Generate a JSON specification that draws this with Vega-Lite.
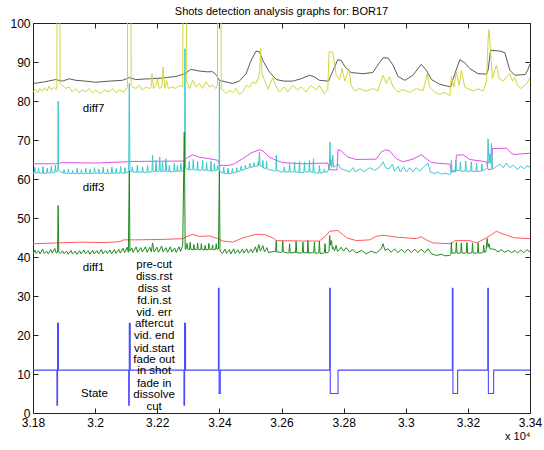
{
"$schema": "https://vega.github.io/schema/vega-lite/v6.json",
"width": 497, "height": 390,
"autosize": {"type": "none"},
"padding": {"left": 33, "top": 23, "right": 14, "bottom": 37},
"background": "white",
"title": {"text": "Shots detection analysis graphs for: BOR17", "fontSize": 11, "fontWeight": "normal", "font": "Liberation Sans", "offset": 0, "anchor": "middle", "color": "#000"},
"config": {"view": {"stroke": "#222", "strokeWidth": 1}, "font": "Liberation Sans"},
"datasets": {
"black": [{"f":31800,"v":84.5},{"f":31830,"v":84.8},{"f":31873,"v":85.5},{"f":31895,"v":85.1},{"f":31916,"v":85.7},{"f":31938,"v":85.3},{"f":31970,"v":85.1},{"f":32002,"v":84.8},{"f":32045,"v":85.1},{"f":32088,"v":85.3},{"f":32110,"v":86.0},{"f":32131,"v":85.5},{"f":32174,"v":85.7},{"f":32217,"v":85.9},{"f":32260,"v":86.3},{"f":32289,"v":87.0},{"f":32308,"v":88.1},{"f":32335,"v":87.7},{"f":32357,"v":87.5},{"f":32378,"v":87.5},{"f":32391,"v":86.6},{"f":32400,"v":85.3},{"f":32421,"v":84.9},{"f":32443,"v":84.5},{"f":32464,"v":85.1},{"f":32486,"v":87.0},{"f":32502,"v":90.4},{"f":32518,"v":92.8},{"f":32529,"v":92.6},{"f":32540,"v":90.4},{"f":32556,"v":88.1},{"f":32561,"v":87.5},{"f":32583,"v":85.5},{"f":32609,"v":85.1},{"f":32636,"v":85.1},{"f":32663,"v":85.7},{"f":32690,"v":86.6},{"f":32706,"v":86.2},{"f":32722,"v":85.3},{"f":32752,"v":85.1},{"f":32757,"v":86.2},{"f":32771,"v":88.7},{"f":32781,"v":90.6},{"f":32792,"v":90.4},{"f":32806,"v":88.6},{"f":32824,"v":87.3},{"f":32862,"v":87.0},{"f":32894,"v":87.3},{"f":32910,"v":89.2},{"f":32927,"v":91.1},{"f":32943,"v":91.0},{"f":32959,"v":89.2},{"f":32975,"v":86.3},{"f":32997,"v":85.3},{"f":33023,"v":86.6},{"f":33050,"v":89.4},{"f":33066,"v":87.9},{"f":33083,"v":85.5},{"f":33109,"v":84.3},{"f":33145,"v":83.6},{"f":33149,"v":84.9},{"f":33158,"v":87.0},{"f":33174,"v":90.6},{"f":33190,"v":89.8},{"f":33206,"v":88.3},{"f":33233,"v":87.0},{"f":33260,"v":86.9},{"f":33265,"v":87.9},{"f":33273,"v":93.0},{"f":33303,"v":92.8},{"f":33319,"v":92.4},{"f":33335,"v":87.9},{"f":33351,"v":86.6},{"f":33385,"v":86.8},{"f":33393,"v":88.0},{"f":33400,"v":89.5}],
"yellow": [{"f":31800,"v":82.4},{"f":31808,"v":83.0},{"f":31815,"v":82.2},{"f":31822,"v":83.2},{"f":31830,"v":82.5},{"f":31838,"v":83.4},{"f":31845,"v":82.6},{"f":31852,"v":83.8},{"f":31860,"v":82.8},{"f":31868,"v":83.5},{"f":31874,"v":83.0},{"f":31877,"v":84.0},{"f":31878,"v":130},{"f":31886,"v":130},{"f":31887,"v":84.5},{"f":31895,"v":84.0},{"f":31905,"v":83.2},{"f":31916,"v":83.6},{"f":31927,"v":82.3},{"f":31938,"v":83.2},{"f":31948,"v":82.1},{"f":31959,"v":82.9},{"f":31970,"v":82.3},{"f":31981,"v":83.2},{"f":31991,"v":82.1},{"f":32002,"v":82.8},{"f":32018,"v":81.9},{"f":32029,"v":82.8},{"f":32045,"v":82.3},{"f":32056,"v":83.2},{"f":32067,"v":82.1},{"f":32077,"v":82.8},{"f":32093,"v":82.3},{"f":32104,"v":83.6},{"f":32105,"v":130},{"f":32115,"v":130},{"f":32116,"v":84.0},{"f":32120,"v":83.6},{"f":32131,"v":83.2},{"f":32142,"v":84.0},{"f":32153,"v":82.8},{"f":32163,"v":83.6},{"f":32174,"v":83.2},{"f":32180,"v":83.5},{"f":32183,"v":87.0},{"f":32188,"v":83.2},{"f":32196,"v":84.0},{"f":32201,"v":85.7},{"f":32206,"v":83.2},{"f":32215,"v":83.6},{"f":32219,"v":88.7},{"f":32224,"v":83.2},{"f":32230,"v":85.3},{"f":32236,"v":83.2},{"f":32249,"v":83.6},{"f":32260,"v":83.2},{"f":32271,"v":84.0},{"f":32282,"v":83.6},{"f":32284,"v":130},{"f":32294,"v":130},{"f":32295,"v":85.0},{"f":32303,"v":83.2},{"f":32314,"v":85.3},{"f":32325,"v":83.6},{"f":32335,"v":84.5},{"f":32346,"v":83.2},{"f":32357,"v":84.9},{"f":32368,"v":83.6},{"f":32378,"v":84.0},{"f":32389,"v":83.2},{"f":32394,"v":84.0},{"f":32395,"v":130},{"f":32405,"v":130},{"f":32406,"v":83.0},{"f":32411,"v":82.8},{"f":32421,"v":81.9},{"f":32432,"v":82.8},{"f":32443,"v":82.1},{"f":32454,"v":83.2},{"f":32464,"v":81.7},{"f":32475,"v":82.3},{"f":32486,"v":84.0},{"f":32497,"v":83.6},{"f":32507,"v":84.9},{"f":32518,"v":84.5},{"f":32527,"v":86.2},{"f":32530,"v":88.0},{"f":32533,"v":93.5},{"f":32537,"v":87.0},{"f":32545,"v":85.5},{"f":32552,"v":84.0},{"f":32558,"v":83.0},{"f":32561,"v":84.0},{"f":32572,"v":86.0},{"f":32583,"v":83.6},{"f":32593,"v":82.3},{"f":32609,"v":83.6},{"f":32620,"v":82.3},{"f":32636,"v":84.0},{"f":32652,"v":82.8},{"f":32663,"v":83.6},{"f":32679,"v":82.3},{"f":32695,"v":84.0},{"f":32712,"v":82.8},{"f":32722,"v":84.0},{"f":32738,"v":81.9},{"f":32749,"v":82.9},{"f":32753,"v":92.6},{"f":32765,"v":92.6},{"f":32771,"v":89.6},{"f":32776,"v":86.6},{"f":32787,"v":85.5},{"f":32795,"v":88.3},{"f":32804,"v":85.1},{"f":32817,"v":88.3},{"f":32824,"v":84.0},{"f":32835,"v":82.6},{"f":32851,"v":83.2},{"f":32873,"v":82.5},{"f":32894,"v":83.2},{"f":32910,"v":82.6},{"f":32927,"v":86.6},{"f":32937,"v":84.5},{"f":32948,"v":86.2},{"f":32959,"v":83.6},{"f":32975,"v":82.3},{"f":32991,"v":82.9},{"f":33013,"v":82.2},{"f":33034,"v":83.2},{"f":33056,"v":82.6},{"f":33069,"v":87.0},{"f":33077,"v":83.6},{"f":33093,"v":82.3},{"f":33109,"v":81.7},{"f":33126,"v":82.2},{"f":33142,"v":81.4},{"f":33147,"v":86.2},{"f":33155,"v":83.6},{"f":33163,"v":87.5},{"f":33172,"v":84.0},{"f":33179,"v":87.9},{"f":33190,"v":83.6},{"f":33201,"v":83.1},{"f":33217,"v":82.6},{"f":33233,"v":83.1},{"f":33249,"v":82.6},{"f":33260,"v":84.9},{"f":33265,"v":95.6},{"f":33268,"v":98.3},{"f":33273,"v":93.0},{"f":33279,"v":85.7},{"f":33287,"v":87.9},{"f":33292,"v":89.2},{"f":33301,"v":85.7},{"f":33314,"v":85.1},{"f":33324,"v":86.2},{"f":33335,"v":87.0},{"f":33344,"v":85.1},{"f":33351,"v":86.0},{"f":33360,"v":84.0},{"f":33370,"v":83.2},{"f":33380,"v":83.8},{"f":33390,"v":84.5},{"f":33400,"v":86.0}],
"magenta": [{"f":31800,"v":63.9},{"f":31873,"v":63.9},{"f":31895,"v":64.2},{"f":32002,"v":64.1},{"f":32099,"v":64.4},{"f":32120,"v":64.5},{"f":32282,"v":64.6},{"f":32298,"v":65.5},{"f":32314,"v":66.2},{"f":32335,"v":65.6},{"f":32368,"v":65.2},{"f":32395,"v":64.8},{"f":32402,"v":63.5},{"f":32432,"v":63.5},{"f":32448,"v":63.9},{"f":32475,"v":65.2},{"f":32502,"v":66.7},{"f":32529,"v":67.5},{"f":32540,"v":67.2},{"f":32561,"v":65.6},{"f":32583,"v":64.8},{"f":32604,"v":64.2},{"f":32669,"v":63.9},{"f":32749,"v":64.1},{"f":32755,"v":62.4},{"f":32779,"v":62.3},{"f":32782,"v":67.5},{"f":32792,"v":67.2},{"f":32814,"v":65.6},{"f":32841,"v":65.0},{"f":32905,"v":65.1},{"f":32921,"v":66.9},{"f":32935,"v":67.5},{"f":32948,"v":67.2},{"f":32970,"v":65.2},{"f":32991,"v":64.4},{"f":33023,"v":65.1},{"f":33050,"v":66.2},{"f":33066,"v":65.2},{"f":33083,"v":64.2},{"f":33142,"v":63.8},{"f":33147,"v":61.8},{"f":33160,"v":61.9},{"f":33163,"v":66.1},{"f":33185,"v":66.2},{"f":33206,"v":65.0},{"f":33260,"v":64.4},{"f":33265,"v":62.4},{"f":33277,"v":62.5},{"f":33279,"v":67.8},{"f":33324,"v":67.9},{"f":33341,"v":66.5},{"f":33351,"v":66.3},{"f":33400,"v":66.6}],
"cyan": [{"f":31800,"v":61.5},{"f":31804,"v":61.6},{"f":31806,"v":63.0},{"f":31808,"v":61.5},{"f":31816,"v":61.6},{"f":31818,"v":62.9},{"f":31820,"v":61.5},{"f":31830,"v":61.5},{"f":31832,"v":63.2},{"f":31834,"v":61.4},{"f":31844,"v":61.5},{"f":31846,"v":62.8},{"f":31848,"v":61.5},{"f":31857,"v":61.6},{"f":31859,"v":63.3},{"f":31861,"v":61.6},{"f":31870,"v":61.7},{"f":31872,"v":63.5},{"f":31874,"v":61.8},{"f":31880,"v":62.0},{"f":31881,"v":80},{"f":31882,"v":62.3},{"f":31886,"v":62.0},{"f":31898,"v":61.5},{"f":31900,"v":62.4},{"f":31902,"v":61.5},{"f":31912,"v":61.4},{"f":31914,"v":62.6},{"f":31916,"v":61.5},{"f":31926,"v":61.4},{"f":31928,"v":62.2},{"f":31930,"v":61.4},{"f":31940,"v":61.4},{"f":31942,"v":62.7},{"f":31944,"v":61.4},{"f":31954,"v":61.4},{"f":31956,"v":62.4},{"f":31958,"v":61.3},{"f":31968,"v":61.4},{"f":31970,"v":62.8},{"f":31972,"v":61.4},{"f":31982,"v":61.4},{"f":31984,"v":62.5},{"f":31986,"v":61.4},{"f":31996,"v":61.5},{"f":31998,"v":62.9},{"f":32000,"v":61.5},{"f":32010,"v":61.5},{"f":32012,"v":62.6},{"f":32014,"v":61.4},{"f":32024,"v":61.5},{"f":32026,"v":63.0},{"f":32028,"v":61.5},{"f":32038,"v":61.4},{"f":32040,"v":62.6},{"f":32042,"v":61.4},{"f":32052,"v":61.5},{"f":32054,"v":63.1},{"f":32056,"v":61.5},{"f":32066,"v":61.5},{"f":32068,"v":62.7},{"f":32070,"v":61.5},{"f":32080,"v":61.5},{"f":32082,"v":63.2},{"f":32084,"v":61.5},{"f":32094,"v":61.5},{"f":32096,"v":62.9},{"f":32098,"v":61.5},{"f":32108,"v":61.9},{"f":32110,"v":84.5},{"f":32112,"v":62.3},{"f":32116,"v":61.8},{"f":32118,"v":61.9},{"f":32120,"v":63.1},{"f":32122,"v":61.8},{"f":32134,"v":61.7},{"f":32136,"v":63.5},{"f":32138,"v":61.7},{"f":32151,"v":61.8},{"f":32153,"v":63.1},{"f":32155,"v":61.7},{"f":32167,"v":61.7},{"f":32169,"v":63.5},{"f":32171,"v":61.7},{"f":32183,"v":61.9},{"f":32185,"v":66.1},{"f":32187,"v":62.0},{"f":32194,"v":61.9},{"f":32196,"v":64.8},{"f":32198,"v":61.9},{"f":32206,"v":62.0},{"f":32208,"v":65.6},{"f":32210,"v":62.0},{"f":32215,"v":61.9},{"f":32217,"v":64.4},{"f":32219,"v":61.9},{"f":32226,"v":62.0},{"f":32228,"v":65.2},{"f":32230,"v":62.0},{"f":32237,"v":61.8},{"f":32239,"v":63.5},{"f":32241,"v":61.8},{"f":32253,"v":61.9},{"f":32255,"v":64.0},{"f":32257,"v":61.9},{"f":32263,"v":61.9},{"f":32265,"v":63.5},{"f":32267,"v":61.9},{"f":32274,"v":62.0},{"f":32276,"v":64.0},{"f":32278,"v":62.0},{"f":32284,"v":62.0},{"f":32286,"v":63.1},{"f":32288,"v":62.2},{"f":32289,"v":93.4},{"f":32291,"v":62.8},{"f":32294,"v":62.6},{"f":32301,"v":62.4},{"f":32303,"v":64.6},{"f":32305,"v":62.3},{"f":32314,"v":62.4},{"f":32316,"v":65.0},{"f":32318,"v":62.4},{"f":32328,"v":62.3},{"f":32330,"v":64.5},{"f":32332,"v":62.2},{"f":32344,"v":62.3},{"f":32346,"v":64.8},{"f":32348,"v":62.3},{"f":32357,"v":62.2},{"f":32359,"v":64.2},{"f":32361,"v":62.2},{"f":32371,"v":62.1},{"f":32373,"v":64.6},{"f":32375,"v":62.0},{"f":32382,"v":62.1},{"f":32384,"v":64.0},{"f":32386,"v":62.2},{"f":32392,"v":62.2},{"f":32394,"v":63.5},{"f":32396,"v":62.3},{"f":32399,"v":62.3},{"f":32400,"v":85.0},{"f":32401,"v":62.0},{"f":32412,"v":61.5},{"f":32414,"v":63.0},{"f":32416,"v":61.4},{"f":32426,"v":61.4},{"f":32428,"v":62.8},{"f":32430,"v":61.3},{"f":32440,"v":61.5},{"f":32442,"v":62.7},{"f":32444,"v":61.5},{"f":32454,"v":61.7},{"f":32456,"v":62.9},{"f":32458,"v":61.8},{"f":32468,"v":62.1},{"f":32470,"v":63.3},{"f":32472,"v":62.2},{"f":32482,"v":62.5},{"f":32484,"v":63.6},{"f":32486,"v":62.6},{"f":32496,"v":62.9},{"f":32498,"v":64.0},{"f":32500,"v":63.0},{"f":32510,"v":63.1},{"f":32512,"v":64.2},{"f":32514,"v":63.2},{"f":32523,"v":63.3},{"f":32525,"v":64.5},{"f":32527,"v":63.4},{"f":32529,"v":66.9},{"f":32531,"v":63.6},{"f":32538,"v":63.0},{"f":32540,"v":64.8},{"f":32542,"v":62.8},{"f":32550,"v":62.7},{"f":32552,"v":64.6},{"f":32554,"v":62.6},{"f":32561,"v":62.4},{"f":32572,"v":62.2},{"f":32580,"v":62.0},{"f":32582,"v":62.2},{"f":32583,"v":66.1},{"f":32585,"v":62.2},{"f":32599,"v":61.8},{"f":32607,"v":61.9},{"f":32609,"v":63.1},{"f":32611,"v":61.8},{"f":32624,"v":61.8},{"f":32626,"v":63.9},{"f":32628,"v":61.8},{"f":32640,"v":61.8},{"f":32642,"v":64.4},{"f":32644,"v":61.8},{"f":32656,"v":61.7},{"f":32658,"v":64.6},{"f":32660,"v":61.6},{"f":32672,"v":61.7},{"f":32674,"v":64.4},{"f":32676,"v":61.8},{"f":32688,"v":61.8},{"f":32690,"v":64.8},{"f":32692,"v":61.8},{"f":32701,"v":61.7},{"f":32703,"v":65.2},{"f":32705,"v":61.6},{"f":32720,"v":61.5},{"f":32722,"v":63.5},{"f":32724,"v":61.5},{"f":32736,"v":61.7},{"f":32738,"v":62.6},{"f":32740,"v":61.7},{"f":32750,"v":62.0},{"f":32752,"v":63.1},{"f":32754,"v":62.4},{"f":32756,"v":69.5},{"f":32758,"v":63.5},{"f":32760,"v":64.8},{"f":32762,"v":63.0},{"f":32765,"v":66.1},{"f":32768,"v":63.0},{"f":32772,"v":63.2},{"f":32781,"v":63.9},{"f":32792,"v":62.6},{"f":32808,"v":62.2},{"f":32819,"v":61.8},{"f":32830,"v":62.9},{"f":32838,"v":61.8},{"f":32853,"v":62.6},{"f":32867,"v":61.9},{"f":32884,"v":62.9},{"f":32900,"v":62.2},{"f":32916,"v":63.1},{"f":32927,"v":64.4},{"f":32935,"v":62.9},{"f":32946,"v":62.6},{"f":32957,"v":63.8},{"f":32964,"v":62.0},{"f":32975,"v":63.2},{"f":32983,"v":61.8},{"f":32993,"v":63.1},{"f":33002,"v":61.8},{"f":33013,"v":62.9},{"f":33023,"v":61.8},{"f":33034,"v":62.9},{"f":33045,"v":62.0},{"f":33058,"v":63.1},{"f":33072,"v":64.1},{"f":33079,"v":61.8},{"f":33093,"v":61.4},{"f":33104,"v":61.8},{"f":33115,"v":61.2},{"f":33126,"v":61.5},{"f":33142,"v":61.1},{"f":33145,"v":61.4},{"f":33147,"v":64.8},{"f":33149,"v":62.1},{"f":33159,"v":62.1},{"f":33161,"v":64.8},{"f":33163,"v":62.2},{"f":33174,"v":62.1},{"f":33176,"v":64.4},{"f":33178,"v":62.0},{"f":33191,"v":62.0},{"f":33193,"v":64.6},{"f":33195,"v":62.0},{"f":33209,"v":62.0},{"f":33211,"v":64.4},{"f":33213,"v":62.0},{"f":33226,"v":61.9},{"f":33228,"v":64.1},{"f":33230,"v":61.9},{"f":33243,"v":62.0},{"f":33245,"v":63.9},{"f":33247,"v":62.1},{"f":33256,"v":62.4},{"f":33258,"v":62.6},{"f":33263,"v":63.0},{"f":33265,"v":70.3},{"f":33268,"v":64.0},{"f":33271,"v":66.5},{"f":33273,"v":64.0},{"f":33276,"v":69.1},{"f":33279,"v":63.0},{"f":33281,"v":62.6},{"f":33292,"v":63.2},{"f":33303,"v":63.8},{"f":33314,"v":62.9},{"f":33324,"v":64.1},{"f":33335,"v":62.9},{"f":33344,"v":63.5},{"f":33351,"v":63.2},{"f":33360,"v":62.4},{"f":33370,"v":63.3},{"f":33380,"v":62.6},{"f":33390,"v":63.4},{"f":33400,"v":63.0}],
"red": [{"f":31800,"v":43.4},{"f":31873,"v":43.6},{"f":31948,"v":43.8},{"f":32024,"v":43.7},{"f":32077,"v":43.9},{"f":32093,"v":44.4},{"f":32131,"v":44.4},{"f":32217,"v":44.5},{"f":32282,"v":44.7},{"f":32298,"v":45.3},{"f":32314,"v":45.8},{"f":32335,"v":45.3},{"f":32368,"v":45.4},{"f":32395,"v":44.7},{"f":32411,"v":44.1},{"f":32443,"v":43.8},{"f":32475,"v":44.9},{"f":32518,"v":45.8},{"f":32550,"v":45.7},{"f":32577,"v":44.7},{"f":32583,"v":44.2},{"f":32669,"v":44.1},{"f":32722,"v":44.1},{"f":32738,"v":45.1},{"f":32755,"v":46.6},{"f":32781,"v":46.8},{"f":32792,"v":46.1},{"f":32810,"v":44.9},{"f":32841,"v":44.2},{"f":32884,"v":44.4},{"f":32905,"v":45.3},{"f":32927,"v":45.6},{"f":32970,"v":45.1},{"f":33034,"v":44.7},{"f":33050,"v":45.2},{"f":33066,"v":44.4},{"f":33088,"v":43.6},{"f":33147,"v":43.4},{"f":33158,"v":44.2},{"f":33206,"v":44.2},{"f":33228,"v":43.6},{"f":33255,"v":44.7},{"f":33276,"v":45.7},{"f":33292,"v":46.6},{"f":33303,"v":46.2},{"f":33335,"v":45.3},{"f":33351,"v":44.9},{"f":33400,"v":44.7}],
"green": [{"f":31800,"v":40.8},{"f":31806,"v":41.8},{"f":31810,"v":40.9},{"f":31818,"v":41.6},{"f":31823,"v":40.8},{"f":31831,"v":42.0},{"f":31836,"v":40.9},{"f":31844,"v":41.5},{"f":31849,"v":40.8},{"f":31857,"v":41.9},{"f":31862,"v":41.0},{"f":31870,"v":42.2},{"f":31875,"v":41.0},{"f":31879,"v":41.2},{"f":31881,"v":53.2},{"f":31883,"v":41.2},{"f":31889,"v":40.9},{"f":31895,"v":41.6},{"f":31900,"v":40.8},{"f":31908,"v":41.5},{"f":31913,"v":40.7},{"f":31922,"v":41.7},{"f":31927,"v":40.8},{"f":31936,"v":41.5},{"f":31941,"v":40.7},{"f":31950,"v":41.6},{"f":31955,"v":40.8},{"f":31964,"v":41.8},{"f":31969,"v":40.8},{"f":31978,"v":41.6},{"f":31983,"v":40.7},{"f":31992,"v":41.7},{"f":31997,"v":40.8},{"f":32006,"v":41.6},{"f":32011,"v":40.8},{"f":32020,"v":41.9},{"f":32025,"v":40.8},{"f":32034,"v":41.7},{"f":32039,"v":40.9},{"f":32048,"v":41.8},{"f":32053,"v":40.8},{"f":32062,"v":41.9},{"f":32067,"v":40.9},{"f":32076,"v":42.0},{"f":32081,"v":41.0},{"f":32090,"v":42.2},{"f":32095,"v":41.1},{"f":32103,"v":42.5},{"f":32107,"v":41.2},{"f":32110,"v":62},{"f":32112,"v":41.5},{"f":32118,"v":42.3},{"f":32122,"v":41.2},{"f":32132,"v":42.6},{"f":32137,"v":41.2},{"f":32147,"v":42.4},{"f":32152,"v":41.3},{"f":32162,"v":42.6},{"f":32167,"v":41.2},{"f":32176,"v":42.5},{"f":32181,"v":41.3},{"f":32185,"v":43.6},{"f":32190,"v":41.3},{"f":32199,"v":42.5},{"f":32204,"v":41.2},{"f":32214,"v":42.8},{"f":32219,"v":41.3},{"f":32228,"v":42.4},{"f":32233,"v":41.2},{"f":32242,"v":42.6},{"f":32247,"v":41.3},{"f":32256,"v":42.3},{"f":32261,"v":41.2},{"f":32270,"v":42.6},{"f":32275,"v":41.4},{"f":32282,"v":43.0},{"f":32287,"v":72},{"f":32290,"v":42.0},{"f":32292,"v":42.0},{"f":32296,"v":43.5},{"f":32298,"v":42.0},{"f":32304,"v":41.9},{"f":32306,"v":43.8},{"f":32308,"v":42.0},{"f":32316,"v":41.8},{"f":32318,"v":43.2},{"f":32320,"v":41.9},{"f":32328,"v":42.0},{"f":32330,"v":43.6},{"f":32332,"v":41.9},{"f":32340,"v":41.9},{"f":32342,"v":43.4},{"f":32344,"v":42.0},{"f":32352,"v":41.8},{"f":32354,"v":43.0},{"f":32356,"v":41.9},{"f":32364,"v":41.9},{"f":32366,"v":43.5},{"f":32368,"v":42.0},{"f":32376,"v":41.9},{"f":32378,"v":43.1},{"f":32380,"v":41.9},{"f":32388,"v":42.0},{"f":32390,"v":43.4},{"f":32392,"v":42.0},{"f":32397,"v":42.1},{"f":32400,"v":62},{"f":32402,"v":41.5},{"f":32410,"v":40.9},{"f":32418,"v":42.0},{"f":32423,"v":40.9},{"f":32432,"v":41.9},{"f":32437,"v":40.8},{"f":32446,"v":42.1},{"f":32451,"v":40.9},{"f":32460,"v":41.8},{"f":32465,"v":40.9},{"f":32474,"v":42.0},{"f":32479,"v":41.0},{"f":32488,"v":42.1},{"f":32493,"v":41.0},{"f":32502,"v":42.0},{"f":32507,"v":41.1},{"f":32516,"v":42.6},{"f":32521,"v":41.2},{"f":32527,"v":43.2},{"f":32532,"v":41.5},{"f":32540,"v":42.9},{"f":32545,"v":41.3},{"f":32553,"v":42.4},{"f":32558,"v":41.1},{"f":32566,"v":41.3},{"f":32578,"v":41.4},{"f":32581,"v":41.3},{"f":32583,"v":44.2},{"f":32585,"v":41.3},{"f":32600,"v":41.2},{"f":32602,"v":41.3},{"f":32604,"v":44.1},{"f":32606,"v":41.3},{"f":32622,"v":41.0},{"f":32624,"v":41.1},{"f":32626,"v":43.4},{"f":32628,"v":41.0},{"f":32643,"v":41.2},{"f":32645,"v":41.1},{"f":32647,"v":44.0},{"f":32649,"v":41.1},{"f":32665,"v":41.0},{"f":32667,"v":41.2},{"f":32669,"v":43.8},{"f":32671,"v":41.1},{"f":32681,"v":41.1},{"f":32683,"v":41.0},{"f":32685,"v":44.2},{"f":32687,"v":41.0},{"f":32702,"v":41.1},{"f":32704,"v":41.2},{"f":32706,"v":43.8},{"f":32708,"v":41.0},{"f":32718,"v":41.0},{"f":32720,"v":41.1},{"f":32722,"v":44.1},{"f":32724,"v":40.9},{"f":32736,"v":41.0},{"f":32738,"v":41.2},{"f":32740,"v":43.4},{"f":32742,"v":41.0},{"f":32751,"v":41.2},{"f":32753,"v":41.4},{"f":32755,"v":45.5},{"f":32758,"v":43.0},{"f":32761,"v":44.2},{"f":32764,"v":42.0},{"f":32767,"v":42.5},{"f":32771,"v":41.6},{"f":32776,"v":43.0},{"f":32780,"v":41.5},{"f":32785,"v":41.7},{"f":32792,"v":42.5},{"f":32800,"v":41.5},{"f":32808,"v":42.4},{"f":32819,"v":41.3},{"f":32830,"v":41.9},{"f":32841,"v":41.0},{"f":32857,"v":41.7},{"f":32873,"v":40.8},{"f":32889,"v":41.5},{"f":32905,"v":41.0},{"f":32921,"v":42.1},{"f":32927,"v":43.4},{"f":32933,"v":41.7},{"f":32943,"v":42.1},{"f":32953,"v":41.2},{"f":32964,"v":42.1},{"f":32975,"v":41.1},{"f":32986,"v":42.0},{"f":32996,"v":41.1},{"f":33007,"v":42.0},{"f":33018,"v":41.1},{"f":33029,"v":42.0},{"f":33039,"v":41.1},{"f":33050,"v":42.0},{"f":33061,"v":41.1},{"f":33072,"v":42.1},{"f":33083,"v":40.8},{"f":33099,"v":40.4},{"f":33115,"v":40.7},{"f":33126,"v":40.3},{"f":33142,"v":40.4},{"f":33145,"v":40.6},{"f":33147,"v":43.8},{"f":33149,"v":41.0},{"f":33159,"v":41.0},{"f":33161,"v":41.1},{"f":33163,"v":43.8},{"f":33165,"v":41.0},{"f":33175,"v":41.0},{"f":33177,"v":41.1},{"f":33179,"v":43.6},{"f":33181,"v":41.0},{"f":33193,"v":41.0},{"f":33195,"v":41.1},{"f":33197,"v":43.7},{"f":33199,"v":41.0},{"f":33211,"v":41.0},{"f":33213,"v":41.1},{"f":33215,"v":43.6},{"f":33217,"v":41.0},{"f":33229,"v":41.0},{"f":33231,"v":41.1},{"f":33233,"v":43.6},{"f":33235,"v":41.0},{"f":33247,"v":41.1},{"f":33249,"v":41.2},{"f":33251,"v":43.0},{"f":33253,"v":41.2},{"f":33258,"v":41.3},{"f":33262,"v":44.7},{"f":33265,"v":42.5},{"f":33268,"v":43.4},{"f":33272,"v":42.0},{"f":33276,"v":42.1},{"f":33287,"v":41.9},{"f":33297,"v":41.3},{"f":33308,"v":41.9},{"f":33319,"v":41.2},{"f":33330,"v":41.7},{"f":33341,"v":41.1},{"f":33351,"v":41.7},{"f":33360,"v":41.0},{"f":33370,"v":41.8},{"f":33380,"v":41.1},{"f":33390,"v":41.9},{"f":33400,"v":41.3}],
"state": [{"f":31800,"v":11},{"f":31877,"v":2},{"f":31879,"v":23},{"f":31882,"v":11},{"f":32108,"v":2},{"f":32110,"v":23},{"f":32113,"v":11},{"f":32286,"v":2},{"f":32288,"v":23},{"f":32291,"v":11},{"f":32397,"v":32},{"f":32399,"v":5},{"f":32403,"v":11},{"f":32755,"v":32},{"f":32757,"v":5},{"f":32782,"v":11},{"f":33150,"v":32},{"f":33152,"v":5},{"f":33167,"v":11},{"f":33264,"v":32},{"f":33266,"v":5},{"f":33283,"v":11},{"f":33400,"v":11}],
"labels": [{"f":31995,"v":78.0,"t":"diff7"},{"f":31995,"v":57.6,"t":"diff3"},{"f":31995,"v":37.1,"t":"diff1"},{"f":31998,"v":4.9,"t":"State"},{"f":32190,"v":37.9,"t":"pre-cut"},{"f":32190,"v":34.8,"t":"diss.rst"},{"f":32190,"v":31.7,"t":"diss st"},{"f":32190,"v":28.6,"t":"fd.in.st"},{"f":32190,"v":25.6,"t":"vid. err"},{"f":32190,"v":22.7,"t":"aftercut"},{"f":32190,"v":19.7,"t":"vid. end"},{"f":32190,"v":16.5,"t":"vid.start"},{"f":32190,"v":13.5,"t":"fade out"},{"f":32190,"v":10.7,"t":"in shot"},{"f":32190,"v":7.5,"t":"fade in"},{"f":32190,"v":4.5,"t":"dissolve"},{"f":32190,"v":1.5,"t":"cut"}]
},
"resolve": {"axis": {"x": "independent", "y": "independent"}},
"layer": [
{"data": {"name": "black"}, "mark": {"type": "line", "color": "#5a5a5a", "strokeWidth": 1, "clip": true},
 "encoding": {
  "x": {"field": "f", "type": "quantitative", "scale": {"domain": [31800, 33400], "nice": false, "zero": false},
   "axis": {"orient": "bottom", "values": [31800,32000,32200,32400,32600,32800,33000,33200,33400], "labelExpr": "format(datum.value/10000,'~g')", "domain": false, "grid": false, "tickSize": -5, "tickColor": "#222", "labelPadding": 9, "labelFontSize": 12, "labelFont": "Liberation Sans", "labelColor": "#000", "labelFlush": false, "labelOverlap": false, "title": "x 10⁴", "titleFontSize": 11, "titleFontWeight": "normal", "titleFont": "Liberation Sans", "titleColor": "#000", "titleAnchor": "end", "titlePadding": 2}},
  "y": {"field": "v", "type": "quantitative", "scale": {"domain": [0, 100], "nice": false, "zero": false},
   "axis": {"orient": "left", "values": [0,10,20,30,40,50,60,70,80,90,100], "domain": false, "grid": false, "tickSize": -5, "tickColor": "#222", "labelPadding": 8, "labelFontSize": 12, "labelFont": "Liberation Sans", "labelColor": "#000", "labelFlush": false, "labelOverlap": false, "title": null}}
 }},
{"data": {"name": "yellow"}, "mark": {"type": "line", "color": "#d4d43c", "strokeWidth": 1, "clip": true},
 "encoding": {"x": {"field": "f", "type": "quantitative", "scale": {"domain": [31800, 33400], "nice": false, "zero": false}, "axis": null}, "y": {"field": "v", "type": "quantitative", "scale": {"domain": [0, 100], "nice": false, "zero": false}, "axis": null}}},
{"data": {"name": "magenta"}, "mark": {"type": "line", "color": "#e04ee8", "strokeWidth": 1, "clip": true},
 "encoding": {"x": {"field": "f", "type": "quantitative", "scale": {"domain": [31800, 33400], "nice": false, "zero": false}, "axis": null}, "y": {"field": "v", "type": "quantitative", "scale": {"domain": [0, 100], "nice": false, "zero": false}, "axis": null}}},
{"data": {"name": "cyan"}, "mark": {"type": "line", "color": "#3cc8cc", "strokeWidth": 1, "clip": true},
 "encoding": {"x": {"field": "f", "type": "quantitative", "scale": {"domain": [31800, 33400], "nice": false, "zero": false}, "axis": null}, "y": {"field": "v", "type": "quantitative", "scale": {"domain": [0, 100], "nice": false, "zero": false}, "axis": null}}},
{"data": {"name": "red"}, "mark": {"type": "line", "color": "#ff5a5a", "strokeWidth": 1, "clip": true},
 "encoding": {"x": {"field": "f", "type": "quantitative", "scale": {"domain": [31800, 33400], "nice": false, "zero": false}, "axis": null}, "y": {"field": "v", "type": "quantitative", "scale": {"domain": [0, 100], "nice": false, "zero": false}, "axis": null}}},
{"data": {"name": "green"}, "mark": {"type": "line", "color": "#1e8a1e", "strokeWidth": 1, "clip": true},
 "encoding": {"x": {"field": "f", "type": "quantitative", "scale": {"domain": [31800, 33400], "nice": false, "zero": false}, "axis": null}, "y": {"field": "v", "type": "quantitative", "scale": {"domain": [0, 100], "nice": false, "zero": false}, "axis": null}}},
{"data": {"name": "state"}, "mark": {"type": "line", "color": "#4a4aff", "strokeWidth": 1.1, "interpolate": "step-after", "clip": true},
 "encoding": {"x": {"field": "f", "type": "quantitative", "scale": {"domain": [31800, 33400], "nice": false, "zero": false}, "axis": null}, "y": {"field": "v", "type": "quantitative", "scale": {"domain": [0, 100], "nice": false, "zero": false}, "axis": null}}},
{"data": {"name": "labels"}, "mark": {"type": "text", "font": "Liberation Sans", "fontSize": 11.5, "align": "center", "baseline": "middle", "color": "#000"},
 "encoding": {
  "x": {"field": "f", "type": "quantitative", "scale": {"domain": [31800, 33400], "nice": false, "zero": false},
   "axis": {"orient": "top", "values": [31800,32000,32200,32400,32600,32800,33000,33200,33400], "labels": false, "domain": false, "grid": false, "tickSize": -5, "tickColor": "#222", "title": null}},
  "y": {"field": "v", "type": "quantitative", "scale": {"domain": [0, 100], "nice": false, "zero": false},
   "axis": {"orient": "right", "values": [0,10,20,30,40,50,60,70,80,90,100], "labels": false, "domain": false, "grid": false, "tickSize": -5, "tickColor": "#222", "title": null}},
  "text": {"field": "t", "type": "nominal"}
 }}
]
}
